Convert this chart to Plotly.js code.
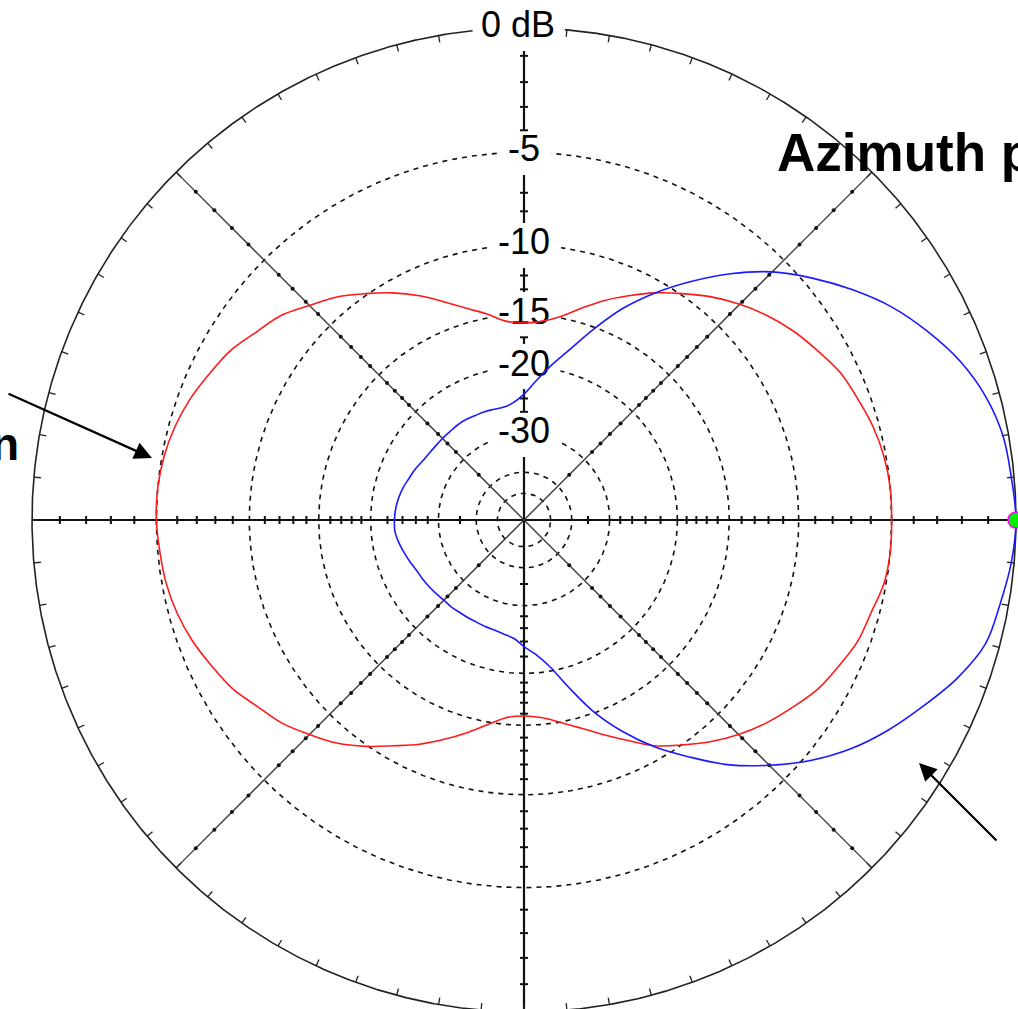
<!DOCTYPE html>
<html><head><meta charset="utf-8">
<script src="https://cdn.plot.ly/plotly-3.0.1.min.js"></script>
<style>html,body{margin:0;padding:0;background:#fff;overflow:hidden;}#chart{width:1018px;height:1009px;}</style>
</head><body><div id="chart"></div>
<script>
// ---- data (angles in degrees, counter-clockwise from the right-hand axis) ----
const angles = [0,5,10,15,20,25,30,35,40,45,50,55,60,65,70,75,80,85,
  90,95,100,105,110,115,120,125,130,135,140,145,150,155,160,165,170,175,
  180,185,190,195,200,205,210,215,220,225,230,235,240,245,250,255,260,265,
  270,275,280,285,290,295,300,305,310,315,320,325,330,335,340,345,350,355];

// red trace (elevation pattern), dB
const elevationDb = [-5.0,-5.0,-5.1,-5.3,-5.6,-5.9,-6.4,-6.9,-7.5,-8.2,-9.0,-9.9,-10.8,-11.8,-12.8,-13.9,-14.9,-15.5,
  -15.7,-15.5,-14.7,-13.9,-12.9,-11.8,-10.8,-9.9,-9.0,-8.3,-7.5,-7.0,-6.4,-6.0,-5.6,-5.3,-5.1,-5.0,
  -5.0,-5.1,-5.2,-5.4,-5.7,-6.1,-6.5,-7.1,-7.6,-8.3,-9.0,-9.9,-10.9,-11.8,-12.8,-13.8,-14.8,-15.6,
  -15.8,-15.6,-15.0,-14.2,-13.2,-12.1,-10.9,-10.0,-9.1,-8.3,-7.6,-7.0,-6.4,-6.0,-5.6,-5.4,-5.1,-5.0];

// blue trace (azimuth pattern), dB
const azimuthDb = [0.0,-0.1,-0.2,-0.5,-1.0,-1.7,-2.5,-3.5,-4.6,-5.8,-7.3,-9.0,-10.8,-12.8,-15.2,-17.6,-19.6,-21.6,
  -23.4,-24.5,-25.0,-25.0,-24.9,-24.9,-24.8,-24.8,-24.9,-24.9,-24.9,-24.8,-24.6,-24.2,-23.9,-23.5,-23.2,-23.0,
  -22.9,-22.9,-23.2,-23.6,-24.0,-24.4,-24.6,-24.8,-25.0,-25.2,-25.2,-25.3,-25.3,-25.3,-25.2,-25.1,-24.8,-24.4,
  -23.3,-22.2,-20.5,-17.9,-15.1,-12.8,-10.8,-9.1,-7.4,-6.0,-4.7,-3.6,-2.7,-1.9,-1.1,-0.5,-0.3,-0.1];

// grid rings and labels
const ringDb = [-5,-10,-15,-20,-30,-40,-50];
const outerDb = 0;
const labelDb = [0,-5,-10,-15,-20,-30];
const labelText = ['0 dB','-5','-10','-15','-20','-30'];
const minorTickDb = [-1,-2,-3,-4,-6,-7,-8,-9,-11,-12,-13,-14,-16,-17,-18,-19,-22,-24,-26,-28,-35];
const peakMarkerDb = [0];
const peakMarkerAngle = [0];

// ---- ARRL log-periodic radial scale ----
const PX = 492, CX = 524, CY = 520;   // pixel radius / centre (for pixel sized decorations)
function rr(db){ return Math.pow(0.89, -db/2); }
function pol(r, deg){ const t = deg*Math.PI/180; return [r*Math.cos(t), r*Math.sin(t)]; }

// label boxes (pixels) that interrupt the grid, like the original plot
const boxW = [90,54,72,72,72,72], boxH = 44;
const labelShift = [-6,0,0,0,0,0];
const boxes = labelDb.map((db,i)=>{
  const cx = CX + labelShift[i], cy = CY - rr(db)*PX;
  return [cx-boxW[i]/2, cx+boxW[i]/2, cy-boxH/2, cy+boxH/2];
});
function hidden(x,y){
  const px = CX + x*PX, py = CY - y*PX;
  return boxes.some(b => px>=b[0] && px<=b[1] && py>=b[2] && py<=b[3]);
}
function masked(xs, ys){
  const X=[], Y=[];
  for(let i=0;i<xs.length;i++){
    if(xs[i]===null){ X.push(null); Y.push(null); continue; }
    if(hidden(xs[i],ys[i])){ if(X.length && X[X.length-1]!==null){X.push(null);Y.push(null);} }
    else { X.push(xs[i]); Y.push(ys[i]); }
  }
  return [X,Y];
}

const traces = [];
function circle(r, line){
  const x=[], y=[];
  for(let a=0;a<=360;a+=0.25){ const p=pol(r,a); x.push(p[0]); y.push(p[1]); }
  const m = masked(x,y);
  traces.push({type:'scatter', mode:'lines', x:m[0], y:m[1], line, hoverinfo:'skip'});
}
ringDb.forEach(db => circle(rr(db), {color:'#111', width:1.6, dash:'5px,5px'}));
circle(rr(outerDb), {color:'#222', width:1.6});

// spokes
(function(){
  const x=[], y=[];
  for(let s=-PX;s<=PX;s+=1){ x.push(s/PX); y.push(0); }
  x.push(null); y.push(null);
  for(let s=-PX;s<=PX;s+=1){ x.push(0); y.push(s/PX); }
  const m = masked(x,y);
  traces.push({type:'scatter', mode:'lines', x:m[0], y:m[1], line:{color:'#111', width:2.2}, hoverinfo:'skip'});
  const x2=[], y2=[];
  [45,135].forEach(a=>{ const p=pol(1,a); x2.push(-p[0],p[0],null); y2.push(-p[1],p[1],null); });
  traces.push({type:'scatter', mode:'lines', x:x2, y:y2, line:{color:'#333', width:1.3}, hoverinfo:'skip'});
})();

// axis ticks on horizontal/vertical spokes
(function(){
  const x=[], y=[], h=4/PX;
  [0,90,180,270].forEach(a=>{
    const t=a*Math.PI/180, nx=-Math.sin(t), ny=Math.cos(t);
    minorTickDb.forEach(db=>{
      const p=pol(rr(db),a);
      if(hidden(p[0],p[1])) return;
      x.push(p[0]-nx*h, p[0]+nx*h, null); y.push(p[1]-ny*h, p[1]+ny*h, null);
    });
  });
  traces.push({type:'scatter', mode:'lines', x, y, line:{color:'#111', width:2}, hoverinfo:'skip'});
  // dots on diagonals
  const dx=[], dy=[];
  [45,135,225,315].forEach(a=>{ minorTickDb.forEach(db=>{ const p=pol(rr(db),a); dx.push(p[0]); dy.push(p[1]); }); });
  traces.push({type:'scatter', mode:'markers', x:dx, y:dy, marker:{color:'#111', size:4}, hoverinfo:'skip'});
  // rim ticks every 5 degrees
  const rx=[], ry=[];
  for(let a=0;a<360;a+=5){ const p1=pol(1,a), p2=pol(1-7/PX,a); if(hidden(p1[0],p1[1])) continue; rx.push(p1[0],p2[0],null); ry.push(p1[1],p2[1],null); }
  traces.push({type:'scatter', mode:'lines', x:rx, y:ry, line:{color:'#222', width:1.3}, hoverinfo:'skip'});
})();

// ring labels (drawn below the pattern curves)
const FONT = 'Liberation Sans, Arial, Helvetica, sans-serif';
traces.push({type:'scatter', mode:'text', x:labelDb.map((d,i)=>labelShift[i]/PX), y:labelDb.map(rr),
  text:labelText, textposition:'middle center', textfont:{family:FONT, size:36, color:'#000'},
  hoverinfo:'skip', cliponaxis:false});

function pattern(db, color){
  const x=[], y=[];
  angles.forEach((a,i)=>{ const p=pol(rr(db[i]),a); x.push(p[0]); y.push(p[1]); });
  x.push(x[0]); y.push(y[0]);
  traces.push({type:'scatter', mode:'lines', x, y, line:{color, width:1.6, shape:'spline', smoothing:1.0}, hoverinfo:'skip'});
}
pattern(elevationDb, '#ff1a1a');
pattern(azimuthDb, '#1a1aff');

// peak marker
(function(){
  const x=[], y=[];
  peakMarkerDb.forEach((db,i)=>{ const p=pol(rr(db), peakMarkerAngle[i]); x.push(p[0]); y.push(p[1]); });
  traces.push({type:'scatter', mode:'markers', x, y, cliponaxis:true,
    marker:{color:'#00ee00', size:16, line:{color:'#ff00ff', width:1.5}}, hoverinfo:'skip'});
})();

const annotations = [];
annotations.push({xref:'paper', yref:'paper', x:775/1018, y:1-153/1009, xanchor:'left', yanchor:'middle',
  text:'<b>Azimuth p</b>', showarrow:false, font:{family:FONT, size:53, color:'#000'}});
annotations.push({xref:'paper', yref:'paper', x:21/1018, y:1-444/1009, xanchor:'right', yanchor:'middle',
  text:'<b>n</b>', showarrow:false, font:{family:FONT, size:46, color:'#000'}});
annotations.push({xref:'paper', yref:'paper', x:152/1018, y:1-458/1009, ax:-145, ay:-65, text:'',
  showarrow:true, arrowhead:2, arrowsize:1.6, arrowwidth:2.2, arrowcolor:'#000', standoff:0});
annotations.push({xref:'paper', yref:'paper', x:919/1018, y:1-763/1009, ax:79, ay:79, text:'',
  showarrow:true, arrowhead:2, arrowsize:1.6, arrowwidth:2.2, arrowcolor:'#000', standoff:0});

const layout = {
  width:1018, height:1009, margin:{l:0,r:0,t:0,b:0}, showlegend:false,
  paper_bgcolor:'#fff', plot_bgcolor:'#fff',
  xaxis:{range:[-CX/PX, (1018-CX)/PX], visible:false, fixedrange:true},
  yaxis:{range:[-(1009-CY)/PX, CY/PX], visible:false, fixedrange:true},
  annotations
};
Plotly.newPlot('chart', traces, layout, {staticPlot:true, displayModeBar:false});
</script></body></html>
